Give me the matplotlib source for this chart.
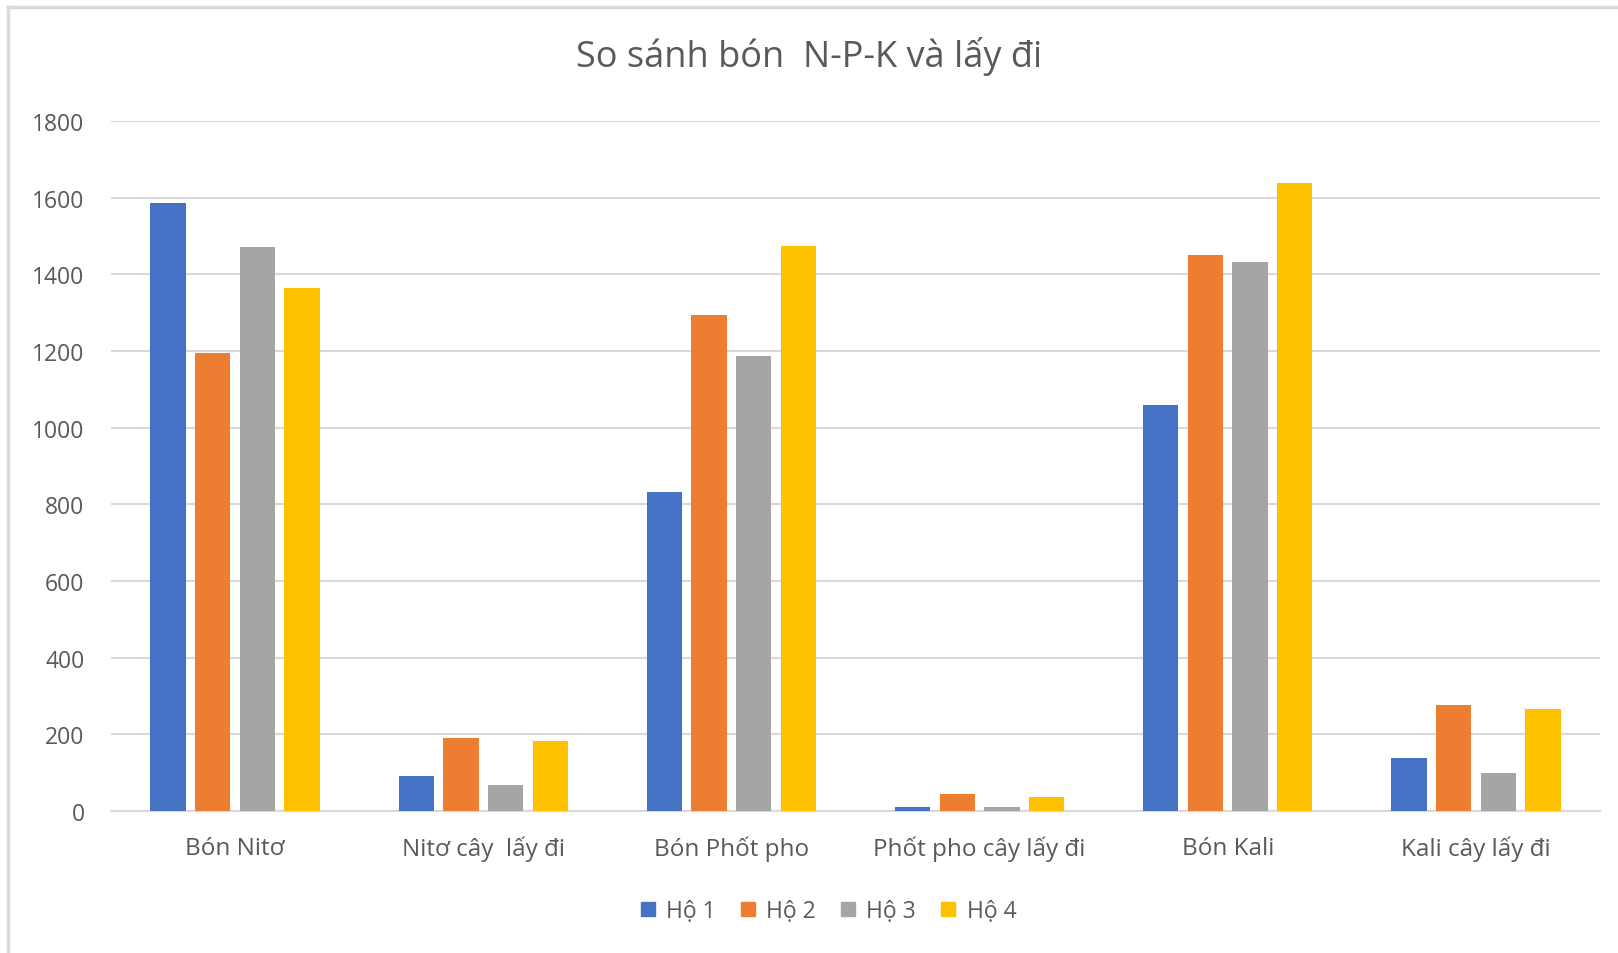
import numpy as np
import matplotlib.pyplot as plt
from matplotlib.lines import Line2D

categories = ['Bón Nitơ', 'Nitơ cây  lấy đi', 'Bón Phốt pho',
              'Phốt pho cây lấy đi', 'Bón Kali', 'Kali cây lấy đi']
series = ['Hộ 1', 'Hộ 2', 'Hộ 3', 'Hộ 4']
ho1 = [1587, 92, 831, 10, 1060, 139]
ho2 = [1194, 190, 1294, 44, 1450, 277]
ho3 = [1472, 68, 1186, 10, 1431, 98]
ho4 = [1364, 183, 1474, 36, 1638, 267]
colors = ['#4472C4', '#ED7D31', '#A5A5A5', '#FFC000']
yticks = [0, 200, 400, 600, 800, 1000, 1200, 1400, 1600, 1800]

plt.rcParams['font.family'] = ['Open Sans', 'DejaVu Sans']

fig = plt.figure(figsize=(16.18, 9.54), dpi=100)
W, H = 1618, 954
ax = fig.add_axes([111 / W, 1 - 812 / H, (1600 - 111) / W, (812 - 122) / H])

x = np.arange(len(categories))
step = 0.18
width = 0.142
for i, (vals, name) in enumerate(zip([ho1, ho2, ho3, ho4], series)):
    ax.bar(x + (i - 1.5) * step, vals, width, color=colors[i], label=name, zorder=3)

ax.set_xlim(-0.5, len(categories) - 0.5)
ax.set_ylim(0, 1800)
ax.set_yticks(yticks)
ax.set_xticks(x)
ax.set_xticklabels(categories, fontsize=17.5, color='#595959')
ax.tick_params(axis='y', labelsize=16.5, colors='#595959', length=0, pad=19)
ax.tick_params(axis='x', length=0, pad=18)
ax.grid(axis='y', color='#d9d9d9', linewidth=1.5, zorder=0)
for s in ['top', 'right', 'left']:
    ax.spines[s].set_visible(False)
ax.spines['bottom'].set_color('#d9d9d9')
ax.spines['bottom'].set_linewidth(1.5)

fig.text(0.5, 1 - 56 / H, 'So sánh bón  N-P-K và lấy đi', ha='center', va='center',
         fontsize=26, color='#595959')

handles = [Line2D([], [], marker='s', linestyle='none', markersize=10.5,
                  markerfacecolor=c, markeredgecolor=c) for c in colors]
fig.legend(handles, series, loc='center', bbox_to_anchor=(0.51, 1 - 912 / H), ncol=4,
           frameon=False, fontsize=16.5, labelcolor='#595959', handletextpad=0.2,
           columnspacing=0.8, handlelength=1.2)

# chart border (top and left edges visible)
fig.add_artist(Line2D([8 / W, 1], [1 - 8 / H, 1 - 8 / H], color='#d9d9d9', linewidth=2.5))
fig.add_artist(Line2D([8 / W, 8 / W], [0, 1 - 8 / H], color='#d9d9d9', linewidth=2.5))

fig.savefig('out.png', dpi=100)
